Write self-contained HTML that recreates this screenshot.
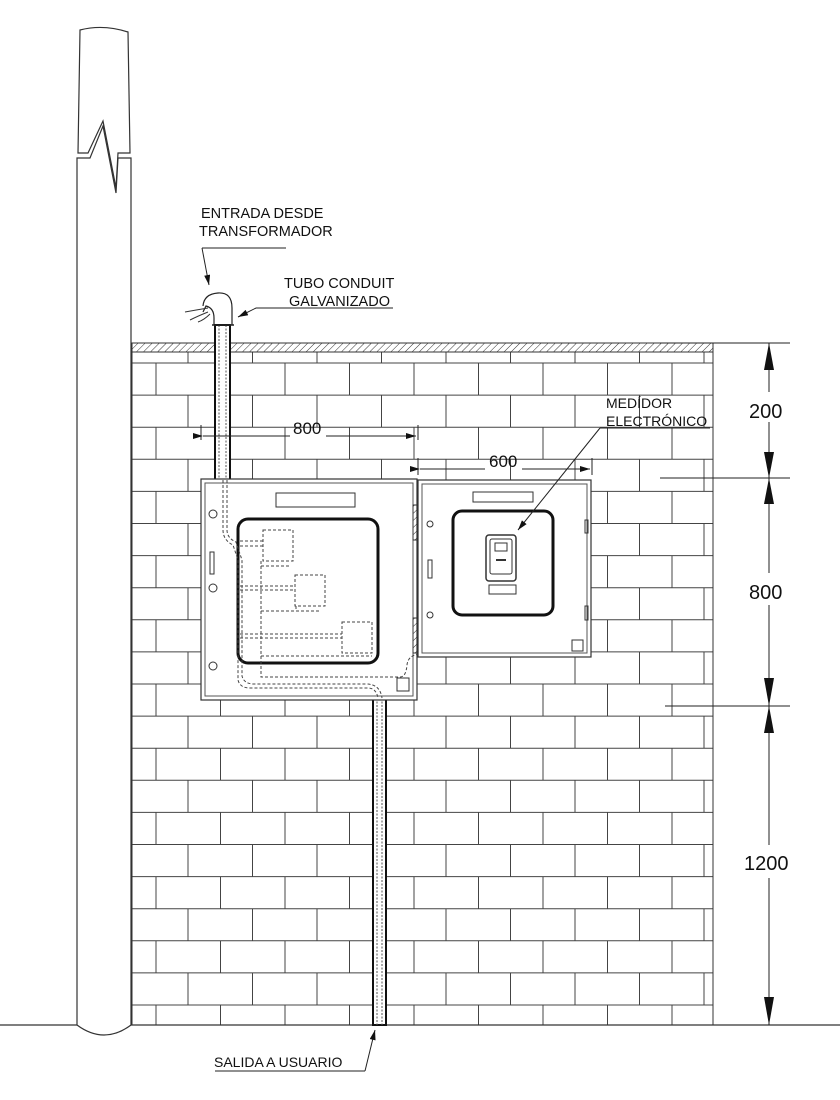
<!DOCTYPE html>
<html><head><meta charset="utf-8"><style>
html,body{margin:0;padding:0;background:#fff;}
svg{display:block;}
text{font-family:"Liberation Sans",sans-serif;fill:#111;}
</style></head><body>
<svg id="s" width="840" height="1100" viewBox="0 0 840 1100" xmlns="http://www.w3.org/2000/svg">
<defs>
<pattern id="h" width="5" height="5" patternUnits="userSpaceOnUse" patternTransform="rotate(45)">
<line x1="0" y1="0" x2="0" y2="5" stroke="#333" stroke-width="1"/></pattern>
<marker id="ar" viewBox="0 0 10 6" refX="10" refY="3" markerWidth="14" markerHeight="6" orient="auto" markerUnits="userSpaceOnUse"><path d="M0,0 L10,3 L0,6 Z" fill="#111"/></marker>
</defs>
<g id="bricks" stroke="#444" stroke-width="1"></g>
<!-- wall outline -->
<rect x="132" y="343" width="581" height="9" fill="url(#h)" stroke="#333"/>
<line x1="132" y1="352" x2="132" y2="1025" stroke="#333"/>
<line x1="713" y1="343" x2="713" y2="1025" stroke="#333"/>
<line x1="0" y1="1025" x2="840" y2="1025" stroke="#333" stroke-width="1.2"/>
<!-- pole -->
<path d="M78,153 L80,30 Q103,24 128,32 L130,153 L118,153 L116,188 L103,121 L88,153 Z" fill="#fff" stroke="#333" stroke-width="1.2"/>
<path d="M77,1025 L77,158 L90,158 L103,126 L116,193 L118,158 L131,158 L131,1025 Q104,1045 77,1025 Z" fill="#fff" stroke="#333" stroke-width="1.2"/>
<!-- conduits -->
<rect x="215" y="325" width="15" height="155" fill="#fff" stroke="#111" stroke-width="2"/>
<line x1="219" y1="325" x2="219" y2="480" stroke="#555" stroke-dasharray="2,1.5"/>
<line x1="226" y1="325" x2="226" y2="480" stroke="#555" stroke-dasharray="2,1.5"/>
<rect x="373" y="698" width="13" height="327" fill="#fff" stroke="#111" stroke-width="2"/>
<line x1="377" y1="698" x2="377" y2="1025" stroke="#555" stroke-dasharray="2,1.5"/>
<line x1="382" y1="698" x2="382" y2="1025" stroke="#555" stroke-dasharray="2,1.5"/>
<!-- gooseneck -->
<path d="M214,325 L214,318 Q214,308 206,306 L203,312 M232,325 L232,308 Q232,292 218,293 Q204,294 203,306" fill="#fff" stroke="#222" stroke-width="1.2"/>
<line x1="212" y1="325" x2="234" y2="325" stroke="#222" stroke-width="1.5"/>
<path d="M208,308 Q196,310 185,312 M208,312 Q198,316 190,320 M210,314 Q204,320 198,322" fill="none" stroke="#333"/>
<!-- left box -->
<rect x="201" y="479" width="216" height="221" fill="#fff" stroke="#333" stroke-width="1.2"/>
<rect x="205" y="483" width="208" height="213" fill="none" stroke="#555"/>
<rect x="276" y="493" width="79" height="14" fill="none" stroke="#333"/>
<rect x="238" y="519" width="140" height="144" rx="10" fill="none" stroke="#111" stroke-width="3"/>
<g fill="none" stroke="#333">
<circle cx="213" cy="514" r="4"/><circle cx="213" cy="588" r="4"/><circle cx="213" cy="666" r="4"/>
<rect x="210" y="552" width="4" height="22"/>
<rect x="397" y="678" width="12" height="13"/>
<rect x="413" y="505" width="4" height="35" fill="url(#h)"/>
<rect x="413" y="618" width="4" height="35" fill="url(#h)"/>
</g>
<g fill="none" stroke="#444" stroke-dasharray="3,2">
<rect x="263" y="530" width="30" height="31"/>
<rect x="295" y="575" width="30" height="31"/>
<rect x="342" y="622" width="30" height="31"/>
<path d="M223,480 L223,530 Q223,540 233,545 L238,560 L238,680 Q240,688 250,688 L368,688 Q376,688 378,698"/>
<path d="M227,480 L227,530 Q227,538 236,542 L242,560 L242,676 Q244,684 254,684 L366,684 Q380,684 382,698"/>
<path d="M240,541 L263,541 M240,546 L263,546 M261,561 L261,677 L400,677 Q406,677 407,665 Q408,655 420,654 L470,654 Q473,654 473,640 L473,612 Q474,602 490,602"/>
<path d="M261,566 L290,566 M240,586 L295,586 M240,590 L295,590 M261,611 L320,611 M296,606 L296,611 M240,634 L342,634 M240,638 L342,638 M261,656 L372,656"/>
</g>
<!-- right box -->
<rect x="418" y="480" width="173" height="177" fill="#fff" stroke="#333" stroke-width="1.2"/>
<rect x="422" y="484" width="165" height="169" fill="none" stroke="#555"/>
<rect x="473" y="492" width="60" height="10" fill="none" stroke="#333"/>
<rect x="453" y="511" width="100" height="104" rx="9" fill="none" stroke="#111" stroke-width="3"/>
<g fill="none" stroke="#333">
<circle cx="430" cy="524" r="3"/><circle cx="430" cy="615" r="3"/>
<rect x="428" y="560" width="4" height="18"/>
<rect x="585" y="520" width="3" height="13"/><rect x="585" y="606" width="3" height="14"/>
<rect x="572" y="640" width="11" height="11"/>
<rect x="486" y="535" width="30" height="46" rx="3" stroke-width="1.5"/>
<rect x="490" y="539" width="22" height="35" rx="2"/>
<rect x="495" y="543" width="12" height="8"/>
<rect x="489" y="585" width="27" height="9"/>
<line x1="496" y1="560" x2="506" y2="560" stroke-width="2"/>
</g>
<!-- leaders -->
<g stroke="#222" fill="none">
<line x1="202" y1="248" x2="286" y2="248"/>
<line x1="202" y1="248" x2="209" y2="285" marker-end="url(#ar)"/>
<line x1="393" y1="308" x2="256" y2="308"/>
<line x1="256" y1="308" x2="238" y2="317" marker-end="url(#ar)"/>
<line x1="710" y1="428" x2="600" y2="428"/>
<line x1="600" y1="428" x2="518" y2="530" marker-end="url(#ar)"/>
<line x1="215" y1="1071" x2="365" y2="1071"/>
<line x1="365" y1="1071" x2="375" y2="1030" marker-end="url(#ar)"/>
</g>
<!-- dimensions -->
<g stroke="#222" fill="none">
<line x1="201" y1="425" x2="201" y2="440"/><line x1="418" y1="425" x2="418" y2="440"/>
<line x1="203" y1="436" x2="290" y2="436" marker-start="url(#ar)"/>
<line x1="326" y1="436" x2="416" y2="436" marker-end="url(#ar)"/>
<line x1="418" y1="458" x2="418" y2="475"/><line x1="592" y1="458" x2="592" y2="475"/>
<line x1="420" y1="469" x2="485" y2="469"/>
<line x1="522" y1="469" x2="590" y2="469" marker-end="url(#ar)"/>
<line x1="420" y1="469" x2="440" y2="469" marker-start="url(#ar)"/>
<line x1="660" y1="343" x2="790" y2="343"/>
<line x1="660" y1="478" x2="790" y2="478"/>
<line x1="665" y1="706" x2="790" y2="706"/>
<line x1="769" y1="343" x2="769" y2="392"/>
<line x1="769" y1="422" x2="769" y2="573"/>
<line x1="769" y1="605" x2="769" y2="845"/>
<line x1="769" y1="878" x2="769" y2="1025"/>
</g>
<g fill="#111">
<path d="M769,343 L764,370 L774,370Z"/><path d="M769,478 L764,452 L774,452Z"/>
<path d="M769,478 L764,504 L774,504Z"/><path d="M769,706 L764,678 L774,678Z"/>
<path d="M769,706 L764,733 L774,733Z"/><path d="M769,1025 L764,997 L774,997Z"/>
</g>
<!-- text -->
<text x="201" y="218" font-size="14.5">ENTRADA DESDE</text>
<text x="199" y="236" font-size="14.5">TRANSFORMADOR</text>
<text x="284" y="288" font-size="14.5">TUBO CONDUIT</text>
<text x="289" y="306" font-size="14.5">GALVANIZADO</text>
<text x="606" y="408" font-size="14">MEDÍDOR</text>
<text x="606" y="426" font-size="14">ELECTRÓNICO</text>
<text x="214" y="1067" font-size="14">SALIDA A USUARIO</text>
<text x="293" y="434" font-size="17">800</text>
<text x="489" y="467" font-size="17">600</text>
<text x="749" y="418" font-size="20">200</text>
<text x="749" y="599" font-size="20">800</text>
<text x="744" y="870" font-size="20">1200</text>
</svg>
<script>
var g=document.getElementById('bricks'),ns='http://www.w3.org/2000/svg';
function L(x1,y1,x2,y2){var l=document.createElementNS(ns,'line');l.setAttribute('x1',x1);l.setAttribute('y1',y1);l.setAttribute('x2',x2);l.setAttribute('y2',y2);g.appendChild(l);}
var rows=[[352,363,1]];
for(var j=0;j<21;j++){var a=363+32.1*j,b=Math.min(363+32.1*(j+1),1025);rows.push([a,b,j%2]);}
rows.forEach(function(r){L(132,r[1],713,r[1]);var s=r[2]?188:156;for(var x=s;x<713;x+=64.5)L(x,r[0],x,r[1]);});
</script>
</body></html>
